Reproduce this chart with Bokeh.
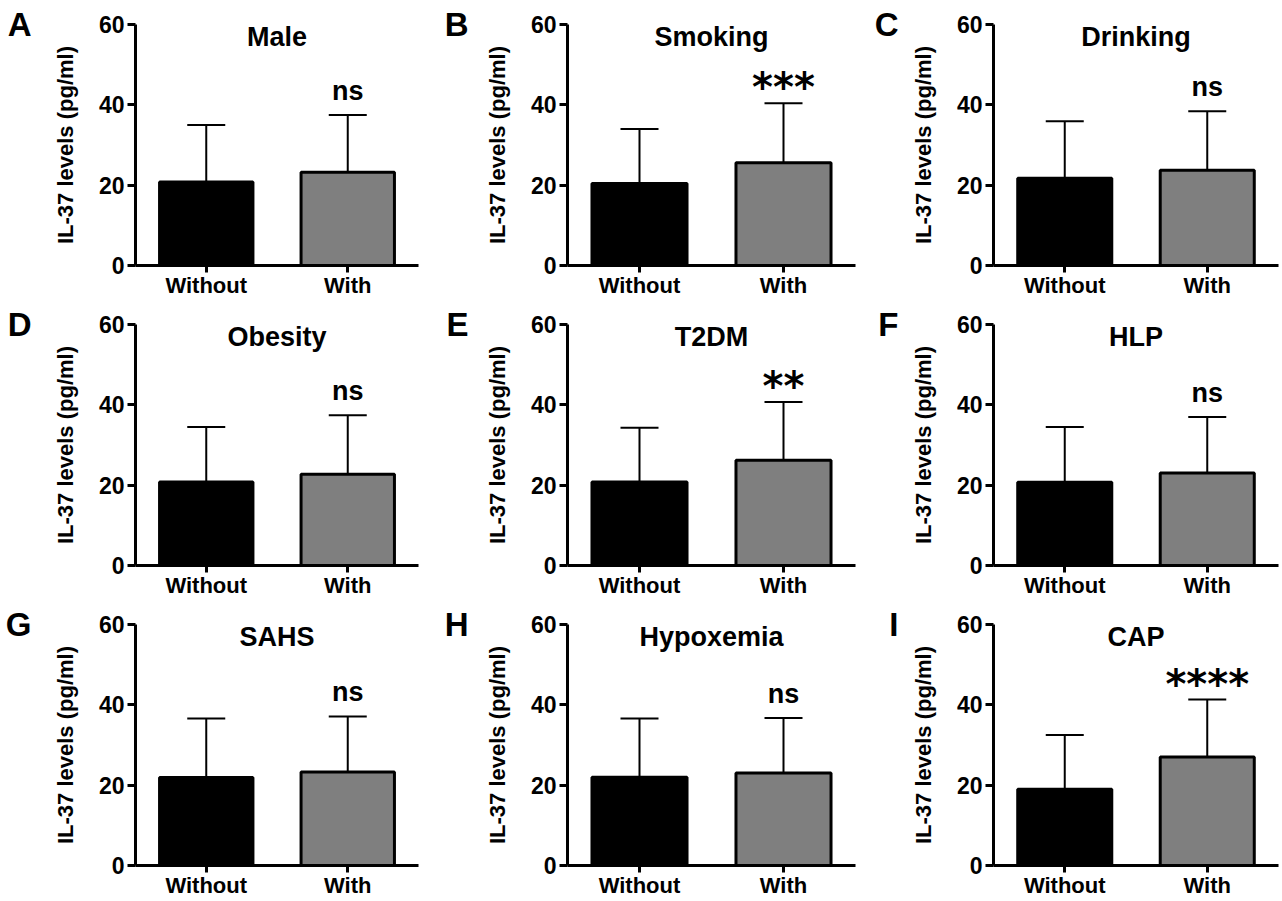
from bokeh.plotting import figure
from bokeh.models import (ColumnDataSource, Whisker, TeeHead, Label, FixedTicker, Range1d,
                          FactorRange, LinearAxis)
from bokeh.layouts import gridplot
from bokeh.embed import file_html
from bokeh.resources import INLINE

# ---- data ----
panel_titles = ["Male", "Smoking", "Drinking", "Obesity", "T2DM", "HLP", "SAHS", "Hypoxemia", "CAP"]
panel_letters = ["A", "B", "C", "D", "E", "F", "G", "H", "I"]
groups = ["Without", "With"]
without_mean = [20.8, 20.4, 21.7, 20.8, 20.8, 20.7, 21.9, 22.0, 19.0]
without_sd = [14.2, 13.6, 14.2, 13.7, 13.5, 13.8, 14.7, 14.6, 13.5]
with_mean = [23.2, 25.6, 23.7, 22.7, 26.2, 23.0, 23.3, 23.0, 27.0]
with_sd = [14.3, 14.8, 14.7, 14.7, 14.5, 14.0, 13.8, 13.7, 14.3]
significance = ["ns", "***", "ns", "ns", "**", "ns", "ns", "ns", "****"]
y_ticks = [0, 20, 40, 60]
y_label = "IL-37 levels (pg/ml)"

FONT = "Liberation Sans"
COL_W = [429, 427, 426]
COL_L = [135, 138, 137]
COL_R = [11, 1, 4]
LETTER_STANDOFF = [18, 13, 9]
ROW_H = 300
TOP, BOTTOM = 24, 34


def fpos(name):
    # synthetic coordinate of a factor on a FactorRange with no padding
    return groups.index(name) + 0.5


figs = []
for i in range(9):
    r, c = divmod(i, 3)
    means = [without_mean[i], with_mean[i]]
    sds = [without_sd[i], with_sd[i]]
    src = ColumnDataSource(dict(
        x=groups,
        top=means,
        lower=means,
        upper=[m + s for m, s in zip(means, sds)],
        color=["#000000", "#7f7f7f"],
    ))
    p = figure(
        x_range=FactorRange(factors=groups, range_padding=0),
        y_range=Range1d(0, 60),
        width=COL_W[c], height=ROW_H,
        min_border_left=COL_L[c], min_border_right=COL_R[c],
        min_border_top=TOP, min_border_bottom=BOTTOM,
        output_backend="svg", toolbar_location=None, tools="",
        background_fill_color="white", border_fill_color="white",
    )
    p.outline_line_color = None
    p.grid.visible = False

    p.add_layout(Whisker(source=src, base="x", lower="lower", upper="upper",
                         upper_head=TeeHead(size=38, line_width=2, line_color="black"),
                         lower_head=None, line_width=2, line_color="black"))
    p.vbar(x="x", top="top", bottom=0, width=0.66, source=src,
           fill_color="color", line_color="black", line_width=3)

    for ax in (p.xaxis[0], p.yaxis[0]):
        ax.axis_line_width = 3
        ax.axis_line_color = "black"
        ax.major_tick_line_width = 3
        ax.major_tick_line_color = "black"
        ax.major_tick_in = 0
        ax.minor_tick_line_color = None
        ax.major_label_text_font = FONT
        ax.major_label_text_font_style = "bold"
        ax.major_label_text_color = "black"
    p.yaxis.major_tick_out = 8
    p.yaxis.ticker = FixedTicker(ticks=y_ticks)
    p.yaxis.major_label_text_font_size = "23px"
    p.yaxis.major_label_standoff = 3
    p.yaxis.axis_label = y_label
    p.yaxis.axis_label_text_font = FONT
    p.yaxis.axis_label_text_font_style = "bold"
    p.yaxis.axis_label_text_font_size = "22px"
    p.yaxis.axis_label_text_color = "black"
    p.yaxis.axis_label_standoff = 18
    p.xaxis.major_tick_out = 7
    p.xaxis.major_label_text_font_size = "22px"
    p.xaxis.major_label_standoff = 0

    # panel title inside the frame
    p.add_layout(Label(x=len(groups) / 2, y=60, text=panel_titles[i], text_align="center",
                       text_baseline="top", y_offset=3,
                       text_font=FONT, text_font_style="bold",
                       text_font_size="27px", text_color="black"))

    # panel letter, carried by an empty outer axis on the left
    lax = LinearAxis(axis_label=panel_letters[i], axis_label_orientation="horizontal",
                     axis_label_align="end", ticker=FixedTicker(ticks=[]),
                     axis_line_color=None, major_tick_line_color=None,
                     minor_tick_line_color=None,
                     axis_label_standoff=LETTER_STANDOFF[c],
                     axis_label_text_font=FONT, axis_label_text_font_style="bold",
                     axis_label_text_font_size="33px", axis_label_text_color="black")
    p.add_layout(lax, "left")

    # significance marks
    sig = significance[i]
    top_val = with_mean[i] + with_sd[i]
    if sig == "ns":
        p.add_layout(Label(x=fpos("With"), y=top_val, text=sig, text_align="center",
                           text_baseline="alphabetic", y_offset=24,
                           text_font=FONT, text_font_style="bold",
                           text_font_size="27px", text_color="black"))
    else:
        p.add_layout(Label(x=fpos("With"), y=top_val, text=sig, text_align="center",
                           text_baseline="alphabetic", y_offset=16,
                           text_font="DejaVu Sans", text_font_style="bold",
                           text_font_size="40px", text_color="black"))
    figs.append(p)

grid = gridplot([figs[0:3], figs[3:6], figs[6:9]], toolbar_location=None)
open("out.html", "w").write(file_html(grid, INLINE))
